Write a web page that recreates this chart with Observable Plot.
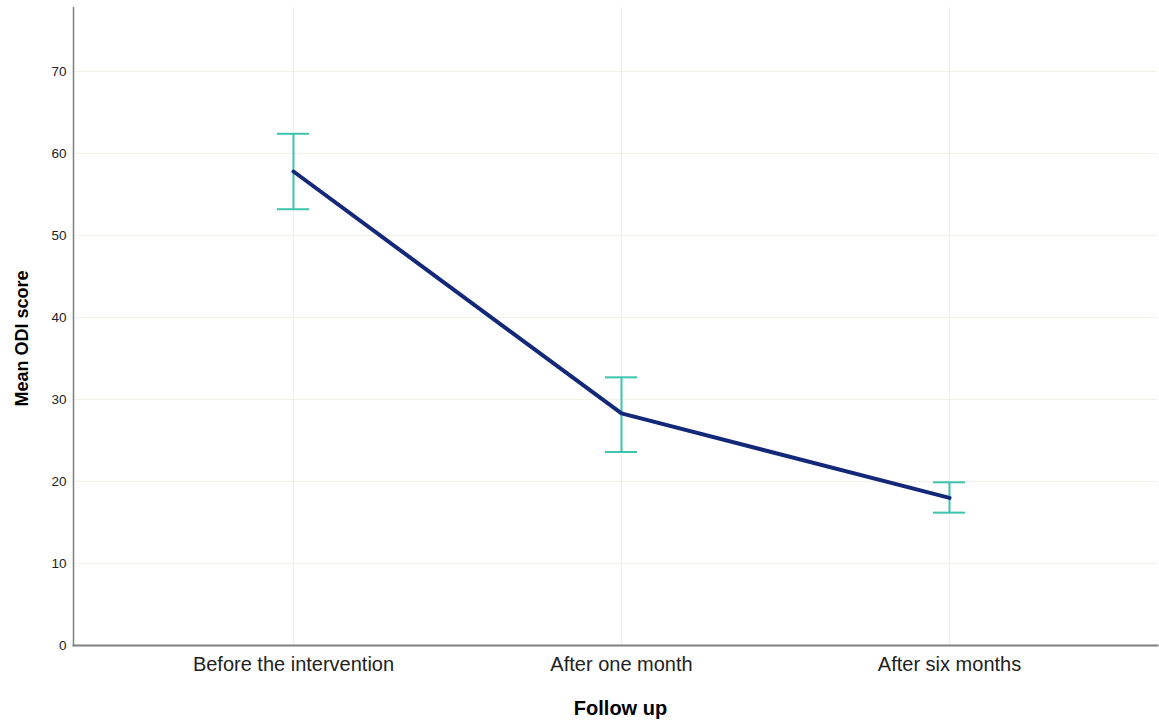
<!DOCTYPE html>
<html>
<head>
<meta charset="utf-8">
<script src="https://cdn.jsdelivr.net/npm/d3@7"></script>
<script src="https://cdn.jsdelivr.net/npm/@observablehq/plot@0.6"></script>
<style>
  html, body { margin: 0; padding: 0; background: #fff; }
  #chart { width: 1159px; height: 723px; }
</style>
</head>
<body>
<div id="chart"></div>
<script>
const categories = ["Before the intervention", "After one month", "After six months"];
const means = [57.8, 28.3, 18.0];
const upper = [62.4, 32.7, 19.9];
const lower = [53.2, 23.6, 16.2];
const yTicks = [0, 10, 20, 30, 40, 50, 60, 70];

const data = categories.map((c, i) => ({cat: c, mean: means[i], hi: upper[i], lo: lower[i]}));

const font = "'Liberation Sans', Arial, sans-serif";

const chart = Plot.plot({
  width: 1159,
  height: 723,
  marginLeft: 73,
  marginRight: 2,
  marginTop: 7,
  marginBottom: 78,
  style: {fontFamily: font, background: "#fff"},
  x: {type: "band", domain: categories, paddingInner: 0.9026, paddingOuter: 0, insetLeft: 203, insetRight: 192, label: null},
  y: {domain: [0, 77.8], label: null},
  marks: [
    Plot.gridY(yTicks.slice(1), {stroke: "#f2f2e4", strokeOpacity: 1, strokeWidth: 1}),
    Plot.gridX(categories, {stroke: "#f2f2e4", strokeOpacity: 1, strokeWidth: 1}),
    Plot.axisY({ticks: yTicks, tickSize: 0, tickPadding: 7, fontSize: 13.5, fill: "#222", label: null}),
    Plot.axisX({tickSize: 0, tickPadding: 11, fontSize: 20, fill: "#222", label: null}),
    Plot.ruleX(data, {x: "cat", y1: "lo", y2: "hi", stroke: "#3cc3ae", strokeWidth: 2}),
    Plot.tickY(data, {x: "cat", y: "hi", stroke: "#3cc3ae", strokeWidth: 2}),
    Plot.tickY(data, {x: "cat", y: "lo", stroke: "#3cc3ae", strokeWidth: 2}),
    Plot.line(data, {x: "cat", y: "mean", stroke: "#14287a", strokeWidth: 4}),
    Plot.frame({anchor: "left", stroke: "#808080", strokeWidth: 1.5}),
    Plot.frame({anchor: "bottom", stroke: "#808080", strokeWidth: 2}),
    Plot.text(["Mean ODI score"], {frameAnchor: "left", dx: -51, dy: 12, rotate: -90, fontSize: 18, fontWeight: "bold", fill: "#000", textAnchor: "middle"}),
    Plot.text(["Follow up"], {frameAnchor: "bottom", dx: 5, dy: 69, fontSize: 20, fontWeight: "bold", fill: "#000"})
  ]
});
document.getElementById("chart").appendChild(chart);
</script>
</body>
</html>
